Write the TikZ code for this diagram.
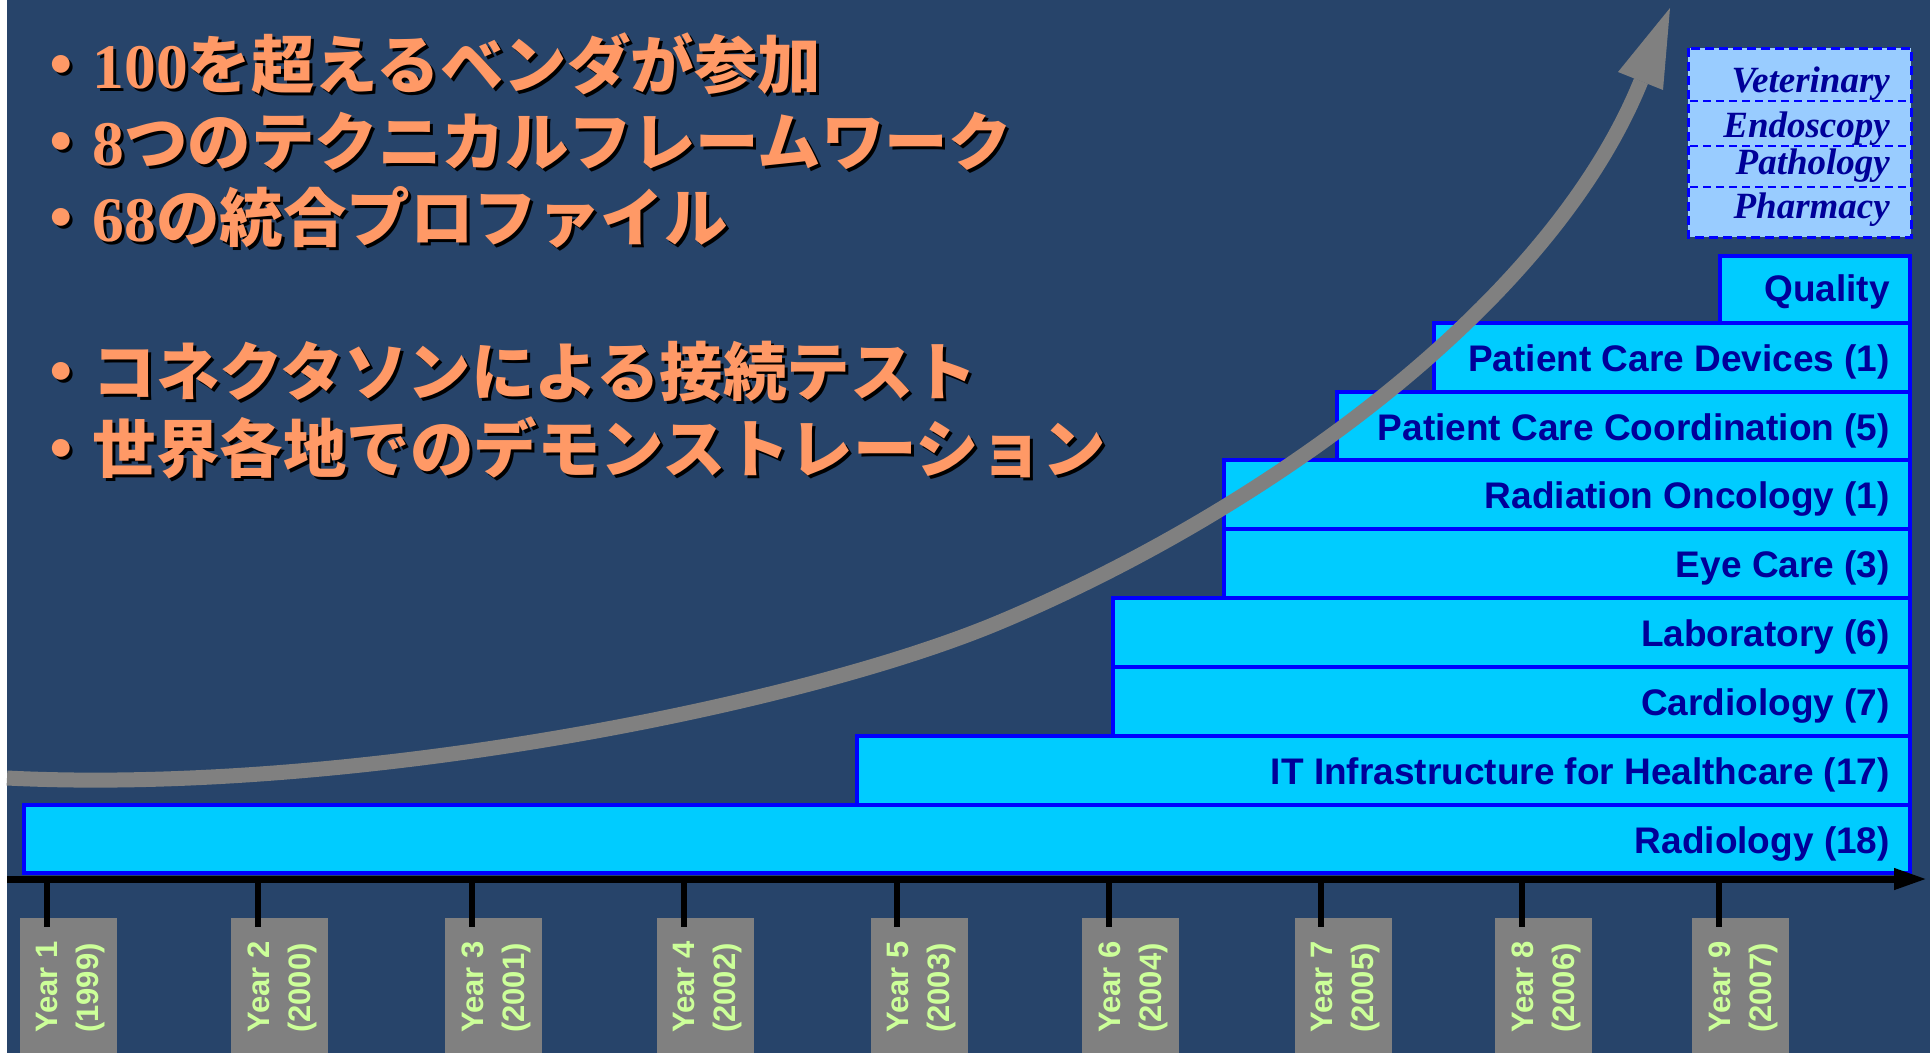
\documentclass[tikz,border=0pt]{standalone}
\usepackage{fontspec}
\setmainfont{Liberation Sans}
\newfontfamily\jpfont{Noto Sans CJK JP}
\newfontfamily\tnrfont{Liberation Serif}
\usetikzlibrary{arrows.meta}
\definecolor{bgblue}{RGB}{39,68,106}
\definecolor{barfill}{HTML}{00CCFF}
\definecolor{barline}{HTML}{0000FF}
\definecolor{navy}{HTML}{000099}
\definecolor{paleblue}{HTML}{99CCFF}
\definecolor{orangetxt}{HTML}{FF9966}
\definecolor{yrgreen}{HTML}{CCFF99}
\tikzset{
  barbox/.style={draw=barline, fill=barfill, line width=4.5pt},
  barlbl/.style={anchor=base east, inner sep=0pt, text=navy, font=\fontsize{37}{44}\selectfont\bfseries},
  futlbl/.style={anchor=base east, inner sep=0pt, text=navy, font=\fontsize{37}{44}\selectfont\tnrfont\bfseries\itshape},
  jpline/.style={anchor=base west, inner sep=0pt, text=orangetxt, font=\fontsize{63.5}{76}\selectfont\jpfont\bfseries},
  jpshadow/.style={jpline, text=black},
  yearbox/.style={fill=gray},
  yearlbl/.style={rotate=90, anchor=west, align=left, inner sep=0pt, text=yrgreen, font=\fontsize{31}{41}\selectfont\bfseries},
  tickline/.style={line width=6pt, black},
}
\newcommand{\dg}[1]{{\tnrfont\bfseries #1}}
\begin{document}
\begin{tikzpicture}[x=1pt,y=-1pt]
\useasboundingbox (0,0) rectangle (1930,1053);
\fill[white] (0,0) rectangle (7,1053);
\fill[bgblue] (7,0) rectangle (1930,1053);

% stacked bars (bottom to top)
\draw[barbox] (24,805) rectangle (1910,873);
\draw[barbox] (857,736) rectangle (1910,805);
\draw[barbox] (1113,667) rectangle (1910,736);
\draw[barbox] (1113,598) rectangle (1910,667);
\draw[barbox] (1224,529) rectangle (1910,598);
\draw[barbox] (1224,460) rectangle (1910,529);
\draw[barbox] (1337,392) rectangle (1910,460);
\draw[barbox] (1434,323) rectangle (1910,392);
\draw[barbox] (1720,256) rectangle (1910,323);

% future domains box
\draw[draw=barline, fill=paleblue, line width=3pt, dash pattern=on 9pt off 5pt] (1688,48) rectangle (1911,237);
\foreach \yy in {101,146,187}
  \draw[barline, line width=2pt, dash pattern=on 8pt off 5pt] (1690,\yy) -- (1909,\yy);

% growth arrow
\coordinate (arrS) at (7,778);
\coordinate (arrM) at (1000,622);
\coordinate (arrE) at (1641,81);
\draw[gray, line width=15pt] (arrS) .. controls (350,795) and (800,706) .. (arrM)
  .. controls (1262,512) and (1550,306) .. (arrE);
\fill[gray] (1670,8) -- (1618,72) -- (1663,90) -- cycle;

% bar labels
\node[barlbl] (radiology) at (1890,853) {Radiology (18)};
\node[barlbl] (iti) at (1890,784) {IT Infrastructure for Healthcare (17)};
\node[barlbl] (cardio) at (1890,715) {Cardiology (7)};
\node[barlbl] (lab) at (1890,646) {Laboratory (6)};
\node[barlbl] (eye) at (1890,577) {Eye Care (3)};
\node[barlbl] (radonc) at (1890,508) {Radiation Oncology (1)};
\node[barlbl] (pcc) at (1890,440) {Patient Care Coordination (5)};
\node[barlbl] (pcd) at (1890,371) {Patient Care Devices (1)};
\node[barlbl] (quality) at (1890,301) {Quality};

\node[futlbl] (vet) at (1890,92) {Veterinary};
\node[futlbl] (endo) at (1890,137) {Endoscopy};
\node[futlbl] (path) at (1890,174) {Pathology};
\node[futlbl] (pharm) at (1890,218) {Pharmacy};

% timeline axis
\coordinate (axS) at (7,879);
\coordinate (axE) at (1927,879);
\draw[line width=7pt, -{Triangle[length=33pt,width=20pt]}] (axS) -- (axE);

\foreach \i/\tx/\bx/\yr in {1/47/20/1999, 2/258/231/2000, 3/472/445/2001, 4/684/657/2002, 5/897/871/2003, 6/1109/1082/2004, 7/1321/1295/2005, 8/1522/1495/2006, 9/1719/1692/2007}{
  \fill[yearbox] (\bx,918) rectangle (\bx+97,1053);
  \draw[tickline] (\tx,879) -- (\tx,927);
  \node[yearlbl] (year\i) at (\bx+51,1033) {Year \i\\(\yr)};
}

% Japanese bullet text with shadow
\node[jpshadow] (s1) at (32,91) {・\dg{100}を超えるベンダが参加};
\node[jpshadow] (s2) at (32,168) {・\dg{8}つのテクニカルフレームワーク};
\node[jpshadow] (s3) at (32,244) {・\dg{68}の統合プロファイル};
\node[jpshadow] (s4) at (32,398) {・コネクタソンによる接続テスト};
\node[jpshadow] (s5) at (32,475) {・世界各地でのデモンストレーション};
\node[jpline] (t1) at (29,88) {・\dg{100}を超えるベンダが参加};
\node[jpline] (t2) at (29,165) {・\dg{8}つのテクニカルフレームワーク};
\node[jpline] (t3) at (29,241) {・\dg{68}の統合プロファイル};
\node[jpline] (t4) at (29,395) {・コネクタソンによる接続テスト};
\node[jpline] (t5) at (29,472) {・世界各地でのデモンストレーション};
\end{tikzpicture}
\end{document}
